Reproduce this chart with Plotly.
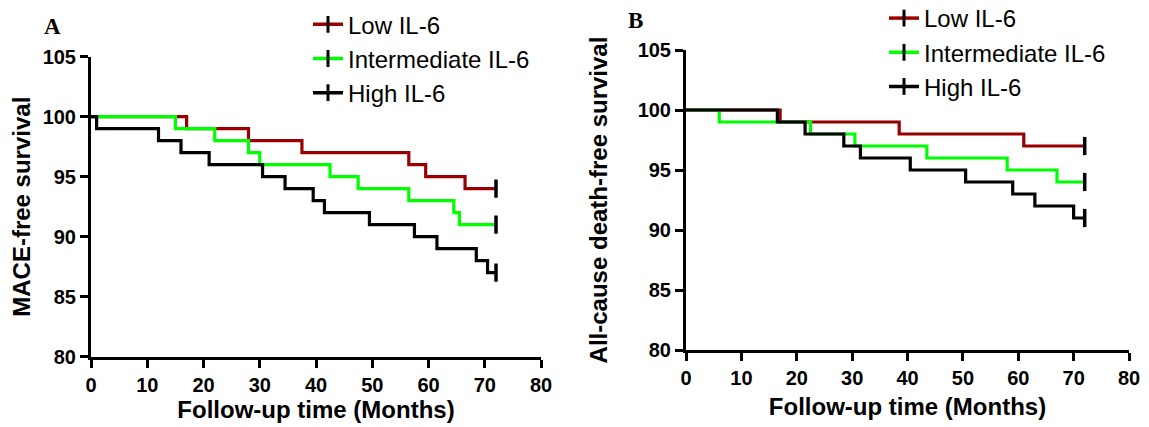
import plotly.graph_objects as go

# ---------------- data ----------------
groups = ["Low IL-6", "Intermediate IL-6", "High IL-6"]
colors = ["#990000", "#00ff00", "#000000"]

# Panel A: MACE-free survival
a_low_t = [0, 17, 28, 37.5, 56.5, 59.5, 66.5, 72]
a_low_s = [100, 99, 98, 97, 96, 95, 94, 94]
a_mid_t = [0, 15, 22, 28, 30, 42.5, 47.5, 56.5, 64.5, 65.5, 72]
a_mid_s = [100, 99, 98, 97, 96, 95, 94, 93, 92, 91, 91]
a_high_t = [0, 1, 12, 16, 21, 30.5, 34.5, 39.5, 41.5, 49.5, 57.5, 61.5, 68.5, 70.5, 72]
a_high_s = [100, 99, 98, 97, 96, 95, 94, 93, 92, 91, 90, 89, 88, 87, 87]

# Panel B: all-cause death-free survival
b_low_t = [0, 17, 38.5, 61, 72]
b_low_s = [100, 99, 98, 97, 97]
b_mid_t = [0, 6, 22.5, 30.5, 43.5, 58, 67, 72]
b_mid_s = [100, 99, 98, 97, 96, 95, 94, 94]
b_high_t = [0, 16.5, 21.5, 28.5, 31.5, 40.5, 50.5, 59, 63, 70, 72]
b_high_s = [100, 99, 98, 97, 96, 95, 94, 93, 92, 91, 91]

x_ticks = [0, 10, 20, 30, 40, 50, 60, 70, 80]
y_ticks = [80, 85, 90, 95, 100, 105]

panel_a = [(a_low_t, a_low_s), (a_mid_t, a_mid_s), (a_high_t, a_high_s)]
panel_b = [(b_low_t, b_low_s), (b_mid_t, b_mid_s), (b_high_t, b_high_s)]

# page has an 8px body margin: figure occupies the window minus that offset
OFF = 8
W, H = 1149 - OFF, 427 - OFF
FONT = "Liberation Sans, Arial, sans-serif"
SERIF = "Liberation Serif, Times New Roman, serif"

fig = go.Figure()

for panel, xa, ya, leg in [(panel_a, "x", "y", "legend"), (panel_b, "x2", "y2", "legend2")]:
    for (t, s), name, col in zip(panel, groups, colors):
        fig.add_trace(go.Scatter(
            x=t, y=s, mode="lines", line=dict(color=col, width=3.2, shape="hv"),
            xaxis=xa, yaxis=ya, showlegend=False, hoverinfo="skip"))
    # censor ticks at the end of each curve
    for (t, s), name, col in zip(panel, groups, colors):
        fig.add_trace(go.Scatter(
            x=[t[-1]], y=[s[-1]], mode="markers",
            marker=dict(symbol="line-ns", size=13, line=dict(color="black", width=3.5)),
            xaxis=xa, yaxis=ya, showlegend=False, hoverinfo="skip"))
    # legend entries
    for name, col in zip(groups, colors):
        fig.add_trace(go.Scatter(
            x=[None], y=[None], mode="lines+markers", name=name,
            line=dict(color=col, width=3.5),
            marker=dict(symbol="line-ns", size=12, line=dict(color="black", width=3)),
            xaxis=xa, yaxis=ya, legend=leg, legendgroup=leg + name, showlegend=True))

def px_x(a, b):
    return [(a - OFF) / W, (b - OFF) / W]

def px_y(top, bottom):
    return [1 - (bottom - OFF) / H, 1 - (top - OFF) / H]

def fx(px):
    return (px - OFF) / W

def fy(py):
    return 1 - (py - OFF) / H

axis_common = dict(
    showline=True, linewidth=3, linecolor="black", showgrid=False, zeroline=False,
    ticks="outside", ticklen=8, tickwidth=3, tickcolor="black",
    tickfont=dict(family=FONT, size=20, color="black", weight="bold"),
    automargin=False, fixedrange=True,
)
title_font = dict(family=FONT, size=24, color="black", weight="bold")

fig.update_layout(
    width=W, height=H, margin=dict(l=0, r=0, t=0, b=0, autoexpand=False),
    paper_bgcolor="white", plot_bgcolor="white",
    font=dict(family=FONT, color="black"),
    xaxis=dict(axis_common, domain=px_x(91, 541), range=[0, 80], tickvals=x_ticks, anchor="y",
               title=dict(text="Follow-up time (Months)", standoff=5, font=title_font)),
    yaxis=dict(axis_common, domain=px_y(56.7, 356.7), range=[80, 105], tickvals=y_ticks, anchor="x",
               title=dict(text="MACE-free survival", standoff=10, font=title_font)),
    xaxis2=dict(axis_common, domain=px_x(686, 1129), range=[0, 80], tickvals=x_ticks, anchor="y2",
                title=dict(text="Follow-up time (Months)", standoff=11, font=title_font)),
    yaxis2=dict(axis_common, domain=px_y(50, 350), range=[80, 105], tickvals=y_ticks, anchor="x2",
                title=dict(text="All-cause death-free survival", standoff=24, font=title_font)),
    legend=dict(x=fx(308), y=fy(2.2), xanchor="left", yanchor="top",
                font=dict(family=FONT, size=24, color="black"),
                bgcolor="rgba(0,0,0,0)", tracegroupgap=0, traceorder="grouped"),
    legend2=dict(x=fx(884), y=fy(-4.0), xanchor="left", yanchor="top",
                 font=dict(family=FONT, size=24, color="black"),
                 bgcolor="rgba(0,0,0,0)", tracegroupgap=0, traceorder="grouped"),
    annotations=[
        dict(text="<b>A</b>", x=fx(52), y=fy(26), xref="paper", yref="paper",
             xanchor="center", yanchor="middle",
             showarrow=False, font=dict(family=SERIF, size=23, color="black")),
        dict(text="<b>B</b>", x=fx(635), y=fy(21), xref="paper", yref="paper",
             xanchor="center", yanchor="middle",
             showarrow=False, font=dict(family=SERIF, size=23, color="black")),
    ],
)

fig.write_html("out.html")
